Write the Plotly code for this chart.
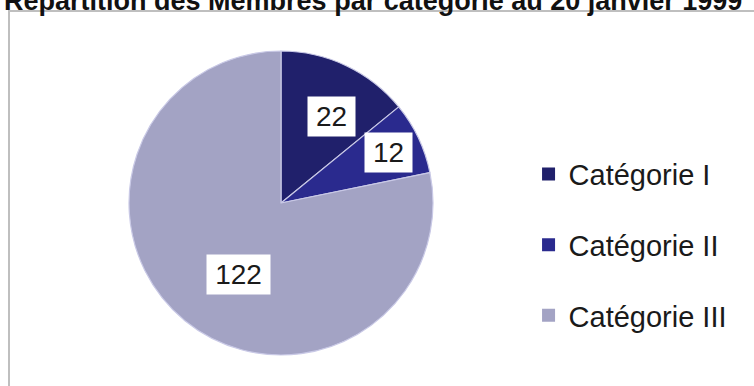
import math
import plotly.graph_objects as go

# Membership counts per category
categories = ["Catégorie I", "Catégorie II", "Catégorie III"]
members = [22, 12, 122]
slice_colors = ["#20206b", "#2a2a8e", "#a3a3c4"]
title_text = "Répartition des Membres par catégorie au 20 janvier 1999"

W, H = 754, 386
# pie placement in page pixels
cx, cy, r = 281, 203, 152
dom_x = [(cx - r) / W, (cx + r) / W]
dom_y = [(H - cy - r) / H, (H - cy + r) / H]

fig = go.Figure()
fig.add_trace(go.Pie(
    labels=categories,
    values=members,
    sort=False,
    direction="clockwise",
    rotation=0,
    textinfo="none",
    hoverinfo="label+value",
    marker=dict(colors=slice_colors, line=dict(color="#c9c9e6", width=1.2)),
    domain=dict(x=dom_x, y=dom_y),
    showlegend=False,
))

# legend entries, spaced out with separate groups
for name, col in zip(categories, slice_colors):
    fig.add_trace(go.Scatter(
        x=[None], y=[None], mode="markers", name=name,
        legendgroup=name,
        marker=dict(symbol="square", size=13, color=col),
    ))

# value labels in white boxes at each slice's mid-angle
total = sum(members)
acc = 0
pcx, pcy = (dom_x[0] + dom_x[1]) / 2, (dom_y[0] + dom_y[1]) / 2
rx, ry = (dom_x[1] - dom_x[0]) / 2, (dom_y[1] - dom_y[0]) / 2
for v in members:
    mid = (acc + v / 2) / total * 2 * math.pi
    acc += v
    k = 0.78
    ax = pcx + k * rx * math.sin(mid)
    ay = pcy + k * ry * math.cos(mid)
    label = str(v)
    fig.add_annotation(
        x=ax, y=ay, xref="paper", yref="paper", text=label, showarrow=False,
        font=dict(family="Liberation Sans, Arial, sans-serif", size=28, color="#1a1a1a"),
        bgcolor="white", width=len(label) * 16 + 15, height=39, borderpad=0,
    )

# chart frame
fig.add_shape(type="rect", xref="paper", yref="paper",
              x0=9 / W, y0=(H - 11) / H, x1=1.02, y1=-0.02,
              line=dict(color="#bfbfbf", width=2), fillcolor="rgba(0,0,0,0)")

fig.update_layout(
    width=W, height=H,
    margin=dict(l=0, r=0, t=0, b=0),
    paper_bgcolor="white", plot_bgcolor="white",
    title=dict(text=title_text, x=0.495, xanchor="center", y=1 - 1 / H, yref="container",
               yanchor="middle",
               font=dict(family="Liberation Sans, Arial, sans-serif", size=27, color="#111111",
                         weight="bold")),
    xaxis=dict(visible=False), yaxis=dict(visible=False),
    legend=dict(x=0.701, xanchor="left", y=0.365, yanchor="middle",
                font=dict(family="Liberation Sans, Arial, sans-serif", size=29, color="#1a1a1a"),
                tracegroupgap=30, bgcolor="rgba(0,0,0,0)"),
)

fig.write_html("out.html")
